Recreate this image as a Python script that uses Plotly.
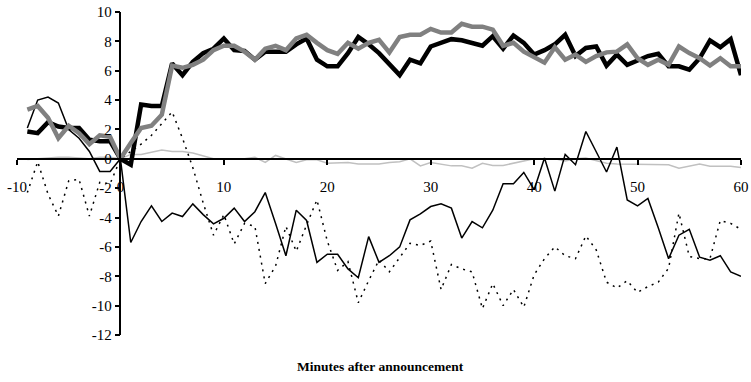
import plotly.graph_objects as go

# Minutes relative to the announcement
minutes = list(range(-9, 61))

thick_black = [
    1.86, 1.75, 2.5, 2.2, 2.1, 2.1, 1.3, 1.2, 1.2, 0.0,
    -0.4, 3.7, 3.6, 3.6, 6.5, 5.7, 6.6, 7.2, 7.5, 8.2,
    7.4, 7.35, 6.75, 7.3, 7.3, 7.3, 7.8, 8.2, 6.75, 6.3,
    6.3, 7.2, 8.3, 7.8, 7.2, 6.5, 5.7, 6.75, 6.5, 7.65,
    7.9, 8.15, 8.07, 7.9, 7.7, 8.35, 7.5, 8.4, 7.9, 7.1,
    7.4, 7.8, 8.45, 7.0, 7.55, 7.65, 6.35, 7.1, 6.4, 6.7,
    7.0, 7.15, 6.3, 6.3, 6.07, 6.85, 8.07, 7.6, 8.15, 5.7,
]

thick_gray = [
    3.35, 3.6, 2.8, 1.4, 2.25, 1.75, 1.0, 1.6, 1.5, 0.0,
    1.07, 2.1, 2.25, 3.0, 6.35, 6.2, 6.4, 6.75, 7.4, 7.7,
    7.7, 7.3, 6.75, 7.5, 7.7, 7.4, 8.2, 8.45, 7.9, 7.4,
    7.15, 7.9, 7.5, 7.9, 8.1, 7.25, 8.3, 8.45, 8.45, 8.85,
    8.6, 8.6, 9.2, 9.0, 9.0, 8.8, 7.7, 7.9, 7.3, 6.9,
    6.55, 7.6, 6.75, 7.1, 6.6, 7.0, 7.25, 7.3, 7.8, 6.85,
    6.4, 6.75, 6.4, 7.65, 7.2, 6.85, 6.35, 6.85, 6.3, 6.3,
]

thin_black = [
    2.1, 4.0, 4.2, 3.8, 2.0, 1.4, 0.5, -0.86, -0.86, 0.0,
    -5.7, -4.27, -3.2, -4.27, -3.7, -3.93, -3.07, -3.8, -4.43, -4.05,
    -3.36, -4.27, -3.6, -2.3, -4.4, -6.6, -3.5, -4.2, -7.05, -6.5,
    -6.5, -7.5, -8.1, -5.3, -7.05, -6.6, -6.0, -4.16, -3.75, -3.25,
    -3.07, -3.36, -5.4, -4.27, -4.7, -3.5, -1.7, -1.7, -0.93, -2.1,
    0.05, -2.2, 0.3, -0.4, 1.86, 0.5, -0.9, 0.8, -2.8, -3.2,
    -2.7, -4.7, -6.8, -5.2, -4.8, -6.7, -6.9, -6.6, -7.7, -8.0,
]

thin_dotted = [
    -2.3, -0.2, -2.4, -3.9, -1.5, -1.4, -3.9, -1.6, -1.7, 0.0,
    0.5, 1.0, 1.6, 2.4, 3.2, 1.4, -0.6, -3.0, -5.2, -3.8,
    -5.8, -4.4, -4.6, -8.5, -7.3, -4.6, -6.3, -4.5, -2.8, -5.6,
    -7.6, -7.0, -9.8, -8.3, -6.9, -7.7, -6.7, -5.75, -5.9, -5.6,
    -8.9, -7.2, -7.5, -7.7, -10.2, -8.5, -10.0, -8.9, -10.1, -7.9,
    -6.8, -6.0, -6.6, -6.8, -5.25, -6.2, -8.4, -8.8, -8.3, -9.1,
    -8.7, -8.4, -7.45, -3.7, -6.65, -6.8, -6.8, -4.2, -4.4, -4.8,
]

light_gray = [
    -0.05, 0.0, 0.1, 0.1, 0.1, 0.05, 0.0, 0.1, 0.1, 0.0,
    0.3, 0.3, 0.45, 0.6, 0.5, 0.5, 0.4, 0.2, 0.0, 0.0,
    0.0, 0.0, 0.1, -0.25, 0.23, 0.0, -0.25, -0.07, -0.07, -0.3,
    -0.3, -0.25, -0.36, -0.36, -0.36, -0.25, -0.2, 0.0, -0.48, -0.25,
    -0.36, -0.48, -0.48, -0.64, -0.3, -0.45, -0.45, -0.3, -0.15, 0.0,
    0.0, 0.0, -0.15, 0.0, 0.05, -0.15, -0.3, -0.35, -0.35, -0.35,
    -0.35, -0.4, -0.4, -0.64, -0.48, -0.35, -0.5, -0.48, -0.5, -0.6,
]

x_ticks = [-10, 0, 10, 20, 30, 40, 50, 60]
y_ticks = list(range(-12, 11, 2))

SERIF = "Liberation Serif, Times New Roman, serif"

fig = go.Figure()
fig.add_trace(go.Scatter(x=minutes, y=light_gray, mode="lines",
                         line=dict(color="#c0c0c0", width=1.5)))
fig.add_trace(go.Scatter(x=minutes, y=thin_dotted, mode="lines",
                         line=dict(color="black", width=1.5, dash="2px,5px")))
fig.add_trace(go.Scatter(x=minutes, y=thin_black, mode="lines",
                         line=dict(color="black", width=1.5)))
fig.add_trace(go.Scatter(x=minutes, y=thick_black, mode="lines",
                         line=dict(color="black", width=4.5)))
fig.add_trace(go.Scatter(x=minutes, y=thick_gray, mode="lines",
                         line=dict(color="#808080", width=4.5)))

fig.update_layout(
    width=751, height=382,
    margin=dict(l=17, r=10, t=12, b=47),
    paper_bgcolor="white", plot_bgcolor="white",
    showlegend=False,
    font=dict(family=SERIF, size=15, color="black"),
    xaxis=dict(
        range=[-10, 60], tickvals=x_ticks, ticktext=[str(v) for v in x_ticks],
        showgrid=False, zeroline=False, automargin=False,
        showline=True, linecolor="black", linewidth=1.5,
        ticks="outside", ticklen=5, tickcolor="black", tickwidth=1.5,
        anchor="free", position=12 / 22,
        ticklabelstandoff=9,
    ),
    yaxis=dict(
        range=[-12, 10], tickvals=y_ticks, ticktext=[str(v) for v in y_ticks],
        showgrid=False, zeroline=False, automargin=False,
        showline=True, linecolor="black", linewidth=1.5,
        ticks="outside", ticklen=5, tickcolor="black", tickwidth=1.5,
        anchor="free", position=10 / 70,
    ),
    annotations=[dict(
        text="<b>Minutes after announcement</b>",
        xref="paper", yref="paper", x=0.502, y=-0.096,
        xanchor="center", yanchor="middle", showarrow=False,
        font=dict(family=SERIF, size=13.5, color="black"),
    )],
)

fig.write_html("out.html")
